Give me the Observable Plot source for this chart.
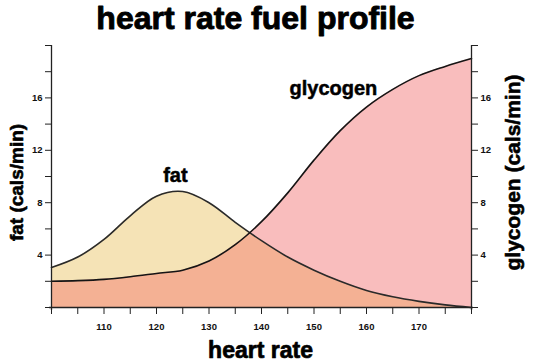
<!DOCTYPE html>
<html>
<head>
<meta charset="utf-8">
<script src="https://cdn.jsdelivr.net/npm/d3@7"></script>
<script src="https://cdn.jsdelivr.net/npm/@observablehq/plot@0.6"></script>
<style>
  html, body { margin: 0; padding: 0; background: #fff; }
  svg { display: block; }
</style>
</head>
<body>
<div id="chart"></div>
<script>
// Data
const heartRate = [100,105,110,115,120,125,130,135,140,145,150,155,160,165,170,175,180];
const fatCals = [3.05,3.85,5.2,7.0,8.5,8.85,8.0,6.5,5.1,3.85,2.85,2.0,1.3,0.82,0.47,0.2,0.0];
const glycogenCals = [2.0,2.05,2.15,2.35,2.6,2.85,3.55,4.8,6.55,8.75,11.25,13.5,15.3,16.65,17.7,18.4,19.0];
const xTicks = [100,105,110,115,120,125,130,135,140,145,150,155,160,165,170,175,180];
const xTickLabels = [110,120,130,140,150,160,170];
const yTicks = [0,2,4,6,8,10,12,14,16,18,20];
const yTickLabels = [4,8,12,16];
const seriesLabels = [
  {text: "fat", hr: 123.6, v: 9.6},
  {text: "glycogen", hr: 153.7, v: 16.2}
];

const data = heartRate.map((h, i) => ({hr: h, fat: fatCals[i], glycogen: glycogenCals[i]}));

const FONT = "'Liberation Sans', Arial, Helvetica, sans-serif";
const curve = "catmull-rom";

const svg = Plot.plot({
  width: 533,
  height: 361,
  marginLeft: 51,
  marginRight: 62,
  marginTop: 45,
  marginBottom: 54,
  style: {fontFamily: FONT, fontWeight: "bold", background: "#fff", color: "#111"},
  x: {domain: [100, 180], label: null},
  y: {domain: [0, 20], label: null},
  marks: [
    Plot.areaY(data, {x: "hr", y: "fat", curve, fill: "#f5e3b6"}),
    Plot.areaY(data, {x: "hr", y: "glycogen", curve, fill: "#f9bdbd"}),
    Plot.areaY(data, {x: "hr", y: "glycogen", curve, fill: "#f4b194"}),
    Plot.lineY(data, {x: "hr", y: "fat", curve, stroke: "#2a2a2a", strokeWidth: 1.6}),
    Plot.lineY(data, {x: "hr", y: "glycogen", curve, stroke: "#151515", strokeWidth: 1.6}),
    // axis lines
    Plot.ruleX([100, 180], {stroke: "#222", strokeWidth: 1.3, insetBottom: -3}),
    Plot.ruleY([0], {stroke: "#222", strokeWidth: 1.3, insetLeft: -2, insetRight: -2}),
    // axes
    Plot.axisX(xTicks, {anchor: "bottom", label: null, tickSize: 7, tickPadding: 9, fontSize: 9.5, fontWeight: "bold",
      stroke: "#222", fill: "#111", tickFormat: d => xTickLabels.includes(d) ? d : ""}),
    Plot.axisY(yTicks, {anchor: "left", label: null, tickSize: 6, tickPadding: 3, fontSize: 9.5, fontWeight: "bold",
      stroke: "#222", fill: "#111", tickFormat: d => yTickLabels.includes(d) ? d : ""}),
    Plot.axisY(yTicks, {anchor: "right", label: null, tickSize: 6, tickPadding: 3, fontSize: 9.5, fontWeight: "bold",
      stroke: "#222", fill: "#111", tickFormat: d => yTickLabels.includes(d) ? d : ""}),
    // series labels
    Plot.text(seriesLabels, {x: "hr", y: "v", text: "text", fontSize: 20, fontWeight: "bold",
      lineAnchor: "bottom", fill: "#000", stroke: "#000", strokeWidth: 0.5}),
    // title and axis labels
    Plot.text(["heart rate fuel profile"], {frameAnchor: "top", dx: -6, dy: -17, lineAnchor: "bottom",
      fontSize: 32, fontWeight: "bold", fill: "#000", stroke: "#000", strokeWidth: 0.9}),
    Plot.text(["heart rate"], {frameAnchor: "bottom", dx: -1, dy: 50, lineAnchor: "bottom",
      fontSize: 23, fontWeight: "bold", fill: "#000", stroke: "#000", strokeWidth: 0.7}),
    Plot.text(["fat (cals/min)"], {frameAnchor: "left", dx: -35, dy: 6, rotate: -90, lineAnchor: "middle",
      textAnchor: "middle", fontSize: 19, fontWeight: "bold", fill: "#000", stroke: "#000", strokeWidth: 0.6}),
    Plot.text(["glycogen (cals/min)"], {frameAnchor: "right", dx: 42, dy: -4, rotate: -90, lineAnchor: "middle",
      textAnchor: "middle", fontSize: 21, fontWeight: "bold", fill: "#000", stroke: "#000", strokeWidth: 0.6})
  ]
});

// Overlap region: glycogen area clipped to the fat area (both drawn by Plot)
const ns = "http://www.w3.org/2000/svg";
const areas = svg.querySelectorAll('g[aria-label="area"]');
if (areas.length >= 3) {
  const fatPath = areas[0].querySelector("path");
  const overlapPath = areas[2].querySelector("path");
  const defs = document.createElementNS(ns, "defs");
  const clip = document.createElementNS(ns, "clipPath");
  clip.setAttribute("id", "fat-clip");
  const cp = document.createElementNS(ns, "path");
  cp.setAttribute("d", fatPath.getAttribute("d"));
  clip.appendChild(cp);
  defs.appendChild(clip);
  svg.insertBefore(defs, svg.firstChild);
  overlapPath.setAttribute("clip-path", "url(#fat-clip)");
}

document.getElementById("chart").appendChild(svg);
</script>
</body>
</html>
